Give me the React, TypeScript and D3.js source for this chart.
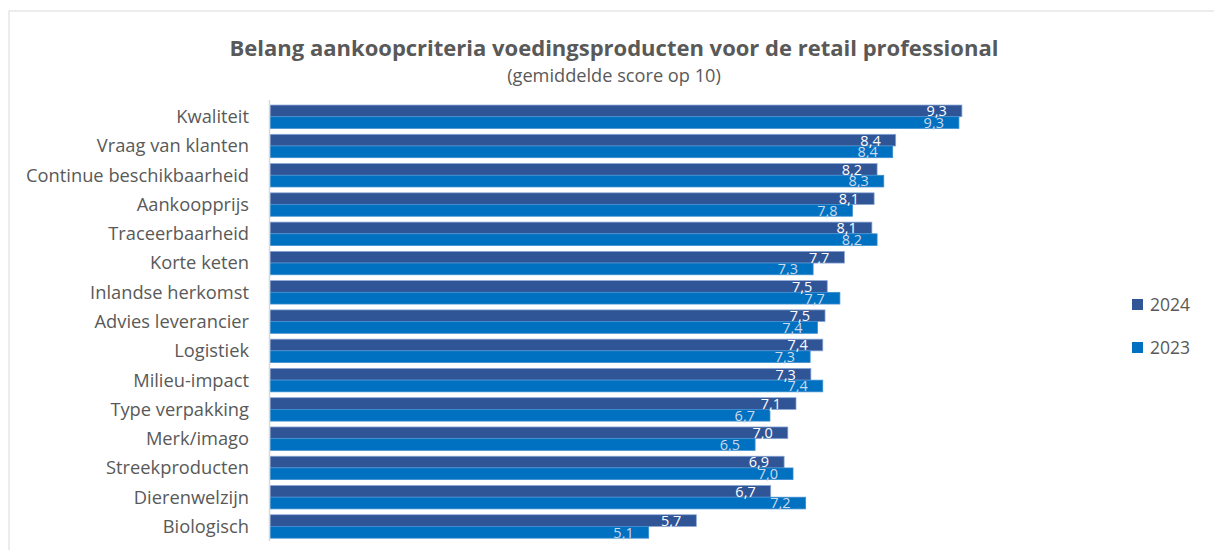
import React from "react";
import * as d3 from "d3";

const categories = [
  "Kwaliteit",
  "Vraag van klanten",
  "Continue beschikbaarheid",
  "Aankoopprijs",
  "Traceerbaarheid",
  "Korte keten",
  "Inlandse herkomst",
  "Advies leverancier",
  "Logistiek",
  "Milieu-impact",
  "Type verpakking",
  "Merk/imago",
  "Streekproducten",
  "Dierenwelzijn",
  "Biologisch",
];
const values2024 = [9.3, 8.41, 8.16, 8.12, 8.09, 7.72, 7.49, 7.46, 7.43, 7.27, 7.07, 6.96, 6.91, 6.73, 5.73];
const values2023 = [9.26, 8.37, 8.25, 7.83, 8.16, 7.3, 7.66, 7.36, 7.26, 7.43, 6.72, 6.52, 7.03, 7.2, 5.09];
const seriesNames = ["2024", "2023"];
const seriesColors = ["#2F5597", "#0070C0"];
const title = "Belang aankoopcriteria voedingsproducten voor de retail professional";
const subtitle = "(gemiddelde score op 10)";

const W = 1214;
const H = 550;
const FONT = "'Open Sans', 'Noto Sans', sans-serif";

export default function App() {
  const x = d3.scaleLinear().domain([0, 10]).range([270, 1014]);
  const y = d3.scaleBand<string>().domain(categories).range([102.1, 541.1]).paddingInner(0.2).paddingOuter(0.1);
  const inner = d3.scaleBand<string>().domain(seriesNames).range([0, y.bandwidth()]);
  const series = [values2024, values2023];
  const fmt = (v: number) => v.toFixed(1).replace(".", ",");
  const labelColors = ["#ffffff", "#cdd8ea"];
  const strokes = ["#8aa6d6", "#3d8fd0"];

  return (
    <svg width={W} height={H} style={{ position: "absolute", left: 0, top: 0, background: "#fff" }} fontFamily={FONT}>
      <rect x={9} y={11} width={1400} height={800} fill="none" stroke="#d9d9d9" strokeWidth={1} />
      <text x={614} y={56} textAnchor="middle" fontSize={22} fontWeight={700} fill="#595959">{title}</text>
      <text x={614} y={82} textAnchor="middle" fontSize={18.2} fill="#595959">{subtitle}</text>

      {categories.map((c) => (
        <text key={c} x={249} y={(y(c) ?? 0) + y.bandwidth() / 2} dy="0.35em" textAnchor="end" fontSize={18.3} fill="#595959">{c}</text>
      ))}

      {series.map((vals, si) =>
        categories.map((c, i) => {
          const y0 = (y(c) ?? 0) + (inner(seriesNames[si]) ?? 0);
          const h = inner.bandwidth();
          return (
            <rect key={`${si}-${c}`} x={x(0)} y={y0} width={x(vals[i]) - x(0)} height={h} fill={seriesColors[si]} stroke={strokes[si]} strokeWidth={0.75} />
          );
        })
      )}
      {series.map((vals, si) =>
        categories.map((c, i) => {
          const y0 = (y(c) ?? 0) + (inner(seriesNames[si]) ?? 0);
          const h = inner.bandwidth();
          return (
            <text key={`l${si}-${c}`} x={x(vals[i]) - 15} y={y0 + h - 0.5} textAnchor="end" fontSize={14.5} fill={labelColors[si]}>{fmt(vals[i])}</text>
          );
        })
      )}

      <line x1={269.5} x2={269.5} y1={100} y2={541} stroke="#d9d9d9" strokeWidth={1.5} />

      {seriesNames.map((s, i) => (
        <g key={s} transform={`translate(1132, ${299 + i * 43})`}>
          <rect x={0} y={0} width={11} height={11} fill={seriesColors[i]} />
          <text x={18} y={5.5} dy="0.36em" fontSize={17.5} fill="#595959">{s}</text>
        </g>
      ))}
    </svg>
  );
}
